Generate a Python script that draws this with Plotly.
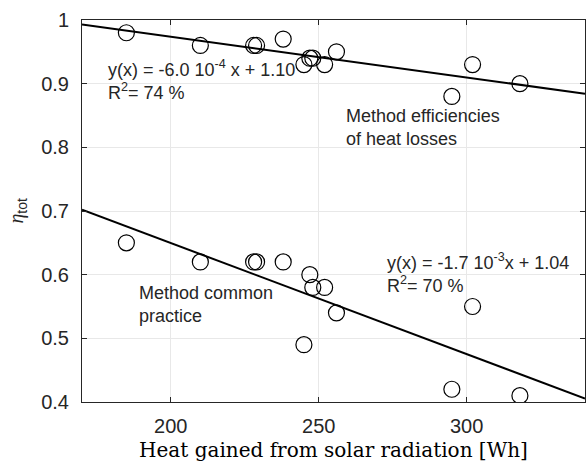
import numpy as np
import plotly.graph_objects as go

# Data
heat = [185, 210, 228, 229, 238, 245, 247, 248, 252, 256, 295, 302, 318]
eta_losses = [0.98, 0.96, 0.96, 0.96, 0.97, 0.93, 0.94, 0.94, 0.93, 0.95, 0.88, 0.93, 0.90]
heat_common = [185, 210, 228, 229, 238, 245, 247, 248, 252, 256, 295, 302, 318]
eta_common = [0.65, 0.62, 0.62, 0.62, 0.62, 0.49, 0.60, 0.58, 0.58, 0.54, 0.42, 0.55, 0.41]

# Fit lines (slope, intercept) as drawn
fit_losses = (-6.4e-4, 1.1018)
fit_common = (-1.744e-3, 0.9985)

x_range = [170, 340]
x_ticks = [200, 250, 300]
y_ticks = [0.4, 0.5, 0.6, 0.7, 0.8, 0.9, 1.0]
y_ticklabels = ["0.4", "0.5", "0.6", "0.7", "0.8", "0.9", "1"]

TXT = "#262626"
SANS = "Liberation Sans, Arial, sans-serif"
SERIF = "DejaVu Serif, Liberation Serif, serif"

fig = go.Figure()

xl = np.array(x_range, dtype=float)
for (m, b) in (fit_losses, fit_common):
    fig.add_trace(go.Scatter(x=xl, y=m * xl + b, mode="lines",
                             line=dict(color="black", width=2), showlegend=False,
                             hoverinfo="skip"))

for xs, ys in ((heat, eta_losses), (heat_common, eta_common)):
    fig.add_trace(go.Scatter(x=xs, y=ys, mode="markers",
                             marker=dict(symbol="circle-open", size=16,
                                         color="black", line=dict(width=1.2)),
                             showlegend=False))

ann_font = dict(family=SANS, size=18, color=TXT)
annotations = [
    dict(x=178, y=0.905, text="y(x) = -6.0 10<sup>-4</sup> x + 1.10<br>R<sup>2</sup>= 74 %",
         xanchor="left", yanchor="middle", align="left"),
    dict(x=258.6, y=0.831, text="Method efficiencies<br>of heat losses",
         xanchor="left", yanchor="middle", align="left"),
    dict(x=188.5, y=0.553, text="Method common<br>practice",
         xanchor="left", yanchor="middle", align="left"),
    dict(x=272.4, y=0.603, text="y(x) = -1.7 10<sup>-3</sup>x + 1.04<br>R<sup>2</sup>= 70 %",
         xanchor="left", yanchor="middle", align="left"),
]
for a in annotations:
    fig.add_annotation(xref="x", yref="y", showarrow=False, font=ann_font, **a)

fig.add_annotation(xref="paper", yref="paper", x=-0.13, y=0.5, textangle=-90,
                   showarrow=False, xanchor="center", yanchor="middle",
                   text="<span style='font-family:Liberation Serif;font-style:italic'>η</span><sub>tot</sub>",
                   font=dict(family=SANS, size=20, color=TXT))

axis_common = dict(showline=True, linecolor=TXT, linewidth=1, mirror="ticks",
                   ticks="inside", ticklen=5, tickcolor=TXT,
                   showgrid=True, gridcolor="#e8e8e8", gridwidth=1, zeroline=False,
                   tickfont=dict(family=SANS, size=20, color=TXT))

fig.update_xaxes(range=x_range, tickvals=x_ticks, ticklabelstandoff=6, **axis_common,
                 title=dict(text="Heat gained from solar radiation [Wh]",
                            font=dict(family=SERIF, size=20, color="black"), standoff=6))
fig.update_yaxes(range=[0.4, 1.0], tickvals=y_ticks, ticktext=y_ticklabels,
                 ticklabelstandoff=8, **axis_common)

fig.update_layout(width=587, height=464, margin=dict(l=82, r=2, t=20, b=62),
                  plot_bgcolor="white", paper_bgcolor="white")

fig.write_html("out.html")
